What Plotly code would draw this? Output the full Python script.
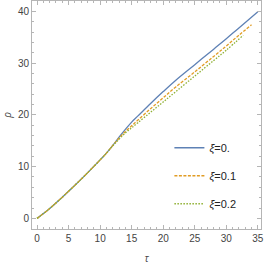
import plotly.graph_objects as go

tau0 = [0, 2, 4, 6, 8, 10, 11, 12, 13, 14, 15, 16, 18, 20, 22, 25, 28, 30, 32, 35]
rho0 = [0, 1.9, 4.1, 6.4, 8.8, 11.3, 12.6, 14.1, 15.7, 17.2, 18.6, 19.8, 22.2, 24.5, 26.7, 29.7, 32.7, 34.7, 36.8, 39.9]

tau1 = [0, 2, 4, 6, 8, 10, 11, 12, 13, 14, 15, 16, 18, 20, 22, 25, 28, 30, 32, 34]
rho1 = [0, 1.9, 4.1, 6.4, 8.8, 11.3, 12.6, 14.1, 15.5, 16.8, 17.9, 19.0, 21.2, 23.3, 25.4, 28.3, 31.3, 33.3, 35.4, 37.4]

tau2 = [0, 2, 4, 6, 8, 10, 11, 12, 13, 14, 15, 16, 18, 20, 22, 25, 28, 30, 32.7]
rho2 = [0, 1.9, 4.1, 6.4, 8.8, 11.3, 12.6, 14.0, 15.3, 16.5, 17.5, 18.5, 20.5, 22.5, 24.5, 27.5, 30.5, 32.5, 35.4]

names = ["<i>ξ</i>=0.", "<i>ξ</i>=0.1", "<i>ξ</i>=0.2"]
colors = ["#5E81B5", "#E19C24", "#8FB032"]
dashes = ["solid", "3px,1.5px", "1.5px,1.5px"]

fig = go.Figure()
for i, (t, r, n, c, d) in enumerate(zip([tau0, tau1, tau2], [rho0, rho1, rho2], names, colors, dashes)):
    fig.add_trace(go.Scatter(x=t, y=r, mode="lines", name=n, legendgroup=f"g{i}",
                             line=dict(color=c, dash=d, width=1.3, shape="spline")))

axis_common = dict(showline=True, linecolor="#b5b5b5", linewidth=1, mirror="ticks",
                   ticks="inside", tickcolor="#b5b5b5", ticklen=4, showgrid=False,
                   zeroline=False, automargin=False, ticklabeloverflow="allow",
                   tickfont=dict(family="Liberation Sans, Arial", size=10, color="#444"))

fig.update_xaxes(range=[-0.8, 35.5], dtick=5, tick0=0,
                 minor=dict(ticks="inside", dtick=1, ticklen=2, tickcolor="#b5b5b5"),
                 title=dict(text="<i>τ</i>", font=dict(size=10, color="#444"), standoff=11),
                 **axis_common)
fig.update_yaxes(range=[-2.05, 42], dtick=10, tick0=0,
                 minor=dict(ticks="inside", dtick=2, ticklen=2, tickcolor="#b5b5b5"),
                 title=dict(text="<i>ρ</i>", font=dict(size=10, color="#444"), standoff=4),
                 **axis_common)

fig.update_layout(
    width=266, height=265,
    margin=dict(l=32, r=5, t=1, b=36),
    plot_bgcolor="white", paper_bgcolor="white",
    legend=dict(x=0.6, y=0.42, xanchor="left", yanchor="top",
                font=dict(family="Liberation Sans, Arial", size=11, color="#222"),
                bgcolor="rgba(0,0,0,0)", itemwidth=30, tracegroupgap=9),
)

fig.write_html("out.html", config={"displayModeBar": False},
               post_script="document.body.style.margin='0';")
